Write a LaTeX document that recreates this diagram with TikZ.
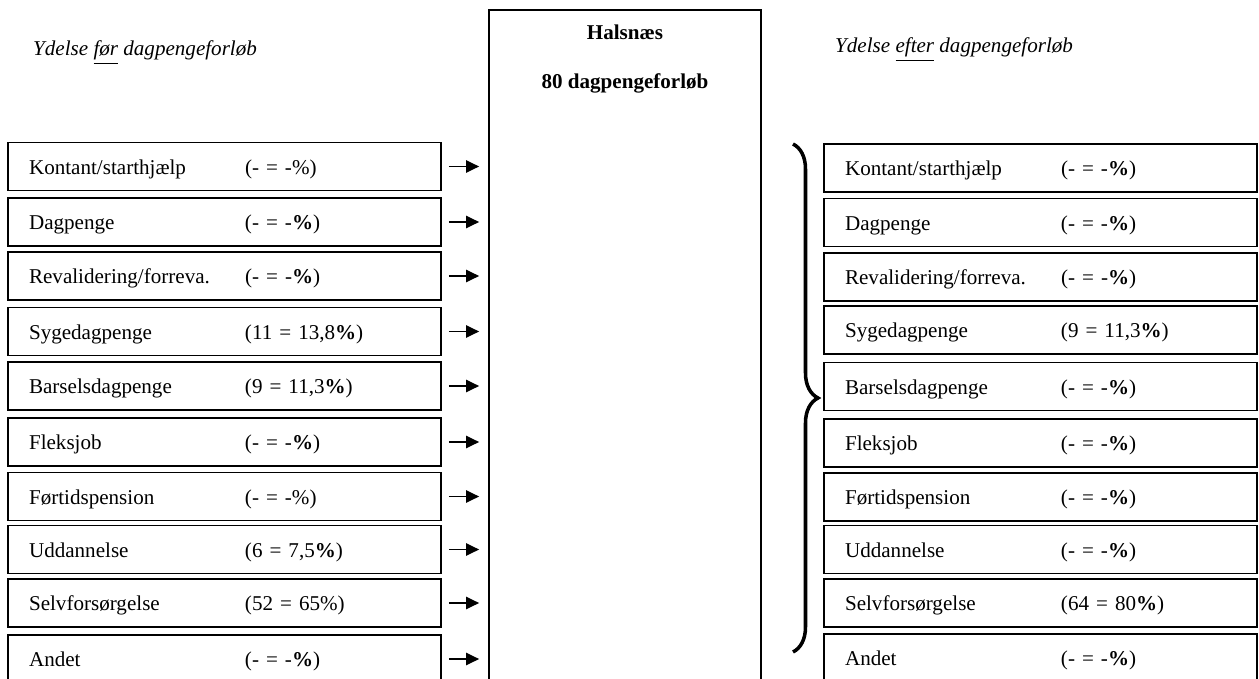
\documentclass[tikz,border=0pt]{standalone}
\usepackage{fontspec}
\setmainfont{Liberation Serif}
\usetikzlibrary{arrows.meta,decorations.pathreplacing}

\newcommand{\ydelse}[2]{\raisebox{-1.5pt}[\height][\depth]{\makebox[4.32cm][l]{#1}#2}}

\tikzset{
  boks/.style={draw, line width=1.1pt, rectangle, inner xsep=0.42cm, inner ysep=0pt,
    text width=7.82cm, minimum height=0.96cm, align=left,
    font=\fontsize{12}{14}\selectfont},
  pil/.style={->, line width=0.8pt, shorten <=0.14cm, shorten >=0.18cm},
  overskrift/.style={anchor=base west, font=\fontsize{12}{14}\selectfont\itshape},
}

\begin{document}
\begin{tikzpicture}[x=0.02cm, y=-0.02cm, >={Triangle[length=0.26cm,width=0.25cm]}]
  \useasboundingbox (0,0) rectangle (1259,679);

  \node (hfoer) at (27,56) [overskrift] {Ydelse \underline{før} dagpengeforløb};
  \node (hefter) at (829,53) [overskrift] {Ydelse \underline{efter} dagpengeforløb};

  % midterste kasse
  \node (hals) at (625,360) [draw, line width=1.1pt, minimum width=5.44cm, minimum height=14cm] {};
  \node (titel) at (625,40) [anchor=base, font=\fontsize{12}{14}\selectfont\bfseries] {Halsnæs};
  \node (antal) at (625,89) [anchor=base, font=\fontsize{12}{14}\selectfont\bfseries] {80 dagpengeforløb};

  % ydelse foer
  \node (f1) at (224.5,166.5) [boks] {\ydelse{Kontant/starthjælp}{(- = -\%)}};
  \node (f2) at (224.5,222) [boks] {\ydelse{Dagpenge}{(- = -\textbf{\%})}};
  \node (f3) at (224.5,276) [boks] {\ydelse{Revalidering/forreva.}{(- = -\textbf{\%})}};
  \node (f4) at (224.5,331.5) [boks] {\ydelse{Sygedagpenge}{(11 = 13,8\textbf{\%})}};
  \node (f5) at (224.5,386) [boks] {\ydelse{Barselsdagpenge}{(9 = 11,3\textbf{\%})}};
  \node (f6) at (224.5,442) [boks] {\ydelse{Fleksjob}{(- = -\textbf{\%})}};
  \node (f7) at (224.5,496.5) [boks] {\ydelse{Førtidspension}{(- = -\%)}};
  \node (f8) at (224.5,549.5) [boks] {\ydelse{Uddannelse}{(6 = 7,5\textbf{\%})}};
  \node (f9) at (224.5,603) [boks] {\ydelse{Selvforsørgelse}{(52 = 65\%)}};
  \node (f10) at (224.5,659) [boks] {\ydelse{Andet}{(- = -\textbf{\%})}};

  % ydelse efter
  \node (e1) at (1040.5,168) [boks] {\ydelse{Kontant/starthjælp}{(- = -\textbf{\%})}};
  \node (e2) at (1040.5,222.5) [boks] {\ydelse{Dagpenge}{(- = -\textbf{\%})}};
  \node (e3) at (1040.5,277) [boks] {\ydelse{Revalidering/forreva.}{(- = -\textbf{\%})}};
  \node (e4) at (1040.5,330) [boks] {\ydelse{Sygedagpenge}{(9 = 11,3\textbf{\%})}};
  \node (e5) at (1040.5,386.5) [boks] {\ydelse{Barselsdagpenge}{(- = -\textbf{\%})}};
  \node (e6) at (1040.5,443) [boks] {\ydelse{Fleksjob}{(- = -\textbf{\%})}};
  \node (e7) at (1040.5,497) [boks] {\ydelse{Førtidspension}{(- = -\textbf{\%})}};
  \node (e8) at (1040.5,549.5) [boks] {\ydelse{Uddannelse}{(- = -\textbf{\%})}};
  \node (e9) at (1040.5,603) [boks] {\ydelse{Selvforsørgelse}{(64 = 80\textbf{\%})}};
  \node (e10) at (1040.5,658) [boks] {\ydelse{Andet}{(- = -\textbf{\%})}};

  \draw [pil] (f1) -- (f1 -| hals.west);
  \draw [pil] (f2) -- (f2 -| hals.west);
  \draw [pil] (f3) -- (f3 -| hals.west);
  \draw [pil] (f4) -- (f4 -| hals.west);
  \draw [pil] (f5) -- (f5 -| hals.west);
  \draw [pil] (f6) -- (f6 -| hals.west);
  \draw [pil] (f7) -- (f7 -| hals.west);
  \draw [pil] (f8) -- (f8 -| hals.west);
  \draw [pil] (f9) -- (f9 -| hals.west);
  \draw [pil] (f10) -- (f10 -| hals.west);

  % klamme
  \coordinate (ktop) at (793,144);
  \coordinate (kbund) at (793,652);
  \draw [line width=2pt, decorate, decoration={brace, amplitude=0.5cm}] (ktop) -- (kbund);
\end{tikzpicture}
\end{document}
